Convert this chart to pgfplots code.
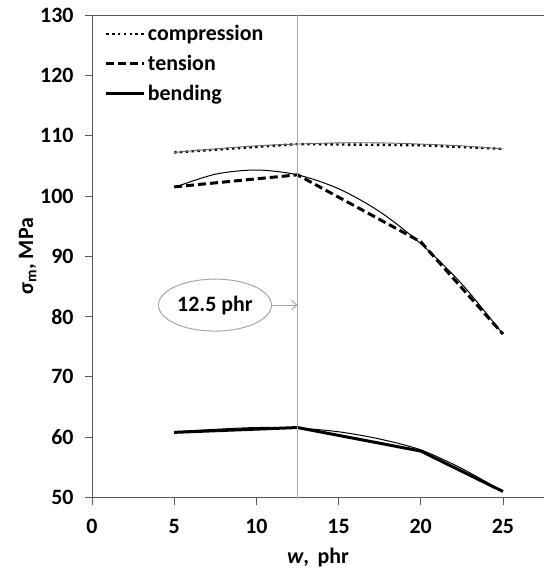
\documentclass[border=0pt]{standalone}
\usepackage{fontspec}
\setmainfont{Carlito}
\usepackage{pgfplots}
\pgfplotsset{compat=1.18}
\usetikzlibrary{shapes.geometric,arrows.meta}
\definecolor{vgray}{HTML}{A6A6A6}
\definecolor{axgray}{HTML}{595959}
\newcommand{\cf}{\bfseries\fontsize{22}{25}\selectfont}
\begin{document}
\begin{tikzpicture}
\path[use as bounding box] (-92bp,-72.5bp) rectangle (452bp,497.5bp);
\begin{axis}[
  at={(0,0)}, anchor=south west,
  scale only axis, width=452bp, height=482.5bp,
  xmin=0, xmax=27.5, ymin=50, ymax=130,
  axis x line=box, axis y line=left,
  axis line style={-, axgray, line width=0.8bp},
  xtick={0,5,...,25}, ytick={50,60,...,130},
  xtick pos=bottom, ytick pos=left,
  tick align=outside, major tick length=7bp,
  tick style={axgray, line width=0.8bp},
  /pgf/number format/assume math mode=true,
  ticklabel style={font=\cf},
  xticklabel style={yshift=-11bp},
  yticklabel style={xshift=-8bp},
  xlabel={\textbf{\textit{w}, \,phr}},
  ylabel={\textbf{σ\textsubscript{m}, MPa}},
  label style={font=\cf},
  xlabel style={yshift=-8bp},
  ylabel style={yshift=-3bp},
  legend style={at={(0.026,0.985)}, anchor=north west, draw=none, fill=none,
    font=\cf, row sep=9bp, inner sep=1bp},
  legend cell align=left,
  legend image code/.code={\draw[#1] (0bp,0bp) -- (38bp,0bp);},
]
% data series
\addplot[black, line width=2.4bp, dash pattern=on 2.4bp off 3.4bp] coordinates {(5,107.2) (12.5,108.6) (20,108.4) (25,107.8)};
\addlegendentry{compression}
\addplot[black, line width=3bp, dash pattern=on 8bp off 4bp] coordinates {(5,101.5) (12.5,103.5) (20,92.4) (25,77.1)};
\addlegendentry{tension}
\addplot[black, line width=3bp] coordinates {(5,60.8) (12.5,61.6) (20,57.7) (25,51.0)};
\addlegendentry{bending}
% trend lines
\addplot[forget plot, black!60, line width=0.9bp, smooth] coordinates {(5,107.2) (7.5,107.8) (10,108.3) (12.5,108.6) (15,108.8) (17.5,108.8) (20,108.6) (22.5,108.3) (25,107.8)};
\addplot[forget plot, black, line width=1bp, smooth] coordinates {(5,101.4) (7.5,103.6) (10,104.3) (12.5,103.5) (15,101.2) (17.5,97.4) (20,92.1) (22.5,85.4) (25,77.1)};
\addplot[forget plot, black, line width=1bp, smooth] coordinates {(5,60.9) (7.5,61.3) (10,61.6) (12.5,61.5) (15,60.9) (17.5,59.7) (20,57.9) (22.5,54.8) (25,51.0)};
% annotation
\draw[vgray, line width=1.2bp] (axis cs:12.5,50) -- (axis cs:12.5,130);
\node[draw=vgray, line width=1bp, ellipse, minimum width=113bp, minimum height=52bp, inner sep=0pt,
  font=\cf] (el) at (axis cs:7.48,81.9) {12.5 phr};
\draw[vgray, line width=1bp, -{Straight Barb[length=5bp,width=9bp]}] (el.east) -- (axis cs:12.5,81.9);
\end{axis}
\end{tikzpicture}
\end{document}
